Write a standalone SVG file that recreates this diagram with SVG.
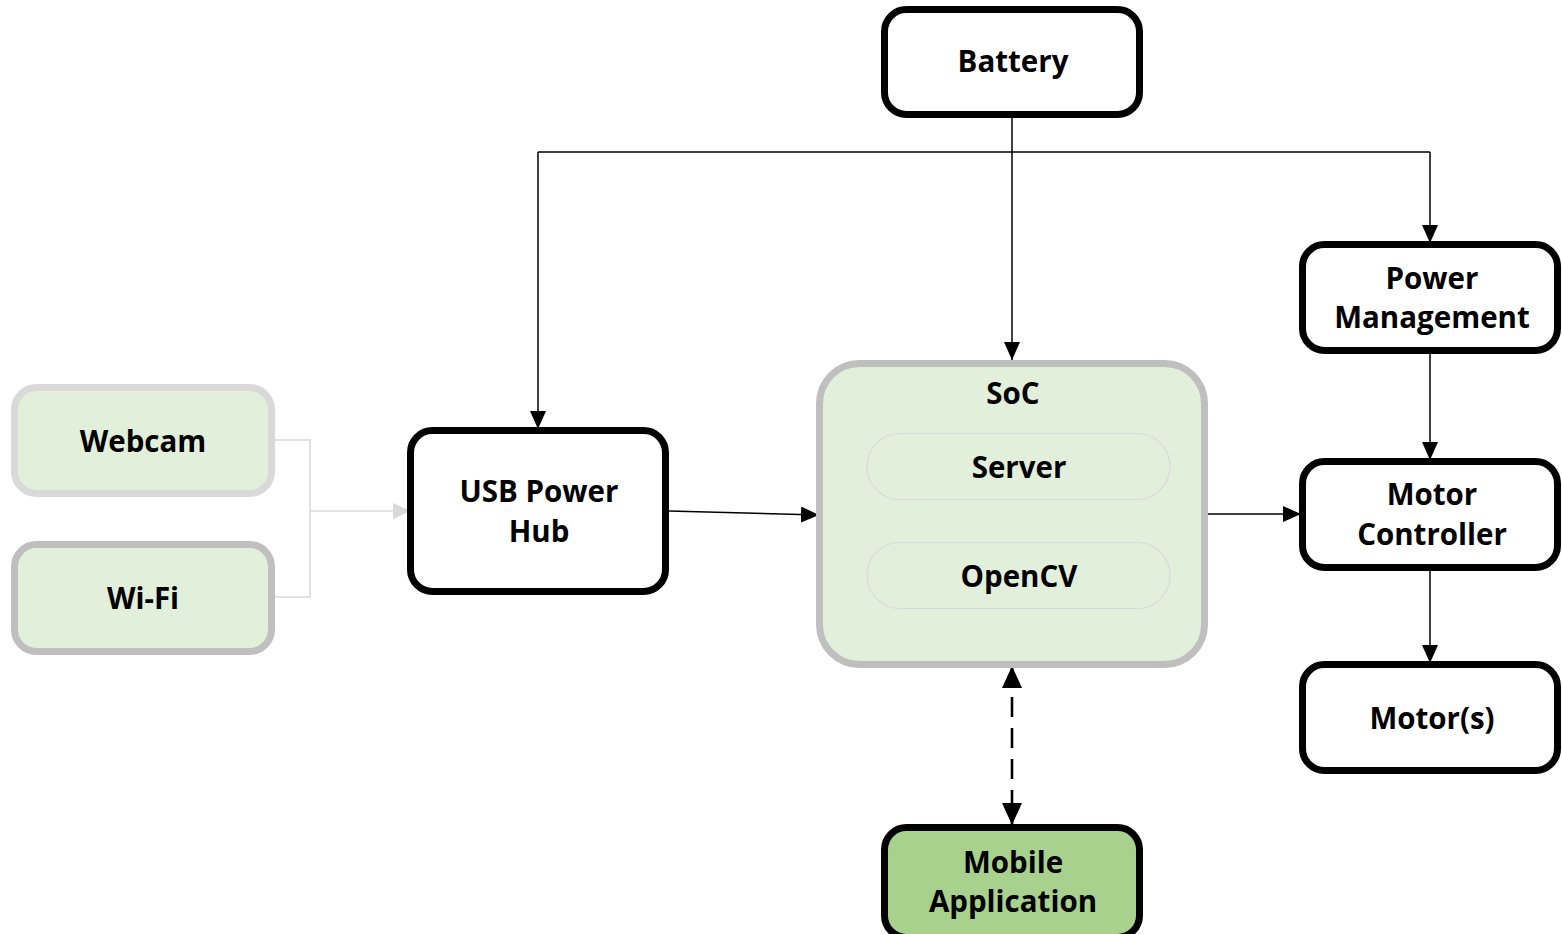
<svg xmlns="http://www.w3.org/2000/svg" width="1562" height="934" viewBox="0 0 1562 934">
  <defs>
    <marker id="arrow" viewBox="0 0 18 16" refX="18" refY="8" markerWidth="18" markerHeight="16" markerUnits="userSpaceOnUse" orient="auto-start-reverse">
      <path d="M0,0 L18,8 L0,16 Z" fill="#000"/>
    </marker>
    <marker id="arrow-big" viewBox="0 0 22 20" refX="22" refY="10" markerWidth="22" markerHeight="20" markerUnits="userSpaceOnUse" orient="auto-start-reverse">
      <path d="M0,0 L22,10 L0,20 Z" fill="#000"/>
    </marker>
    <marker id="arrow-light" viewBox="0 0 18 16" refX="18" refY="8" markerWidth="18" markerHeight="16" markerUnits="userSpaceOnUse" orient="auto">
      <path d="M0,0 L18,8 L0,16 Z" fill="#d9d9d9"/>
    </marker>
  </defs>
  <style>
    .box { fill: #ffffff; stroke: #000000; stroke-width: 7; }
    .green { fill: #e2efda; }
    .app { fill: #a9d18e; stroke: #000000; stroke-width: 7; }
    .soc { fill: #e2efda; stroke: #bfbfbf; stroke-width: 7; }
    .inner { fill: #e2efda; stroke: #d9d9d9; stroke-width: 1.2; }
    .label { font-family: "Open Sans", "Liberation Sans", sans-serif; font-weight: bold; font-size: 29.5px; fill: #000; text-anchor: middle; }
    .wire { fill: none; stroke: #000; stroke-width: 1.5; }
    .dashed { fill: none; stroke: #000; stroke-width: 2.6; stroke-dasharray: 20,11; }
    .wire-light { fill: none; stroke: #d9d9d9; stroke-width: 1.5; }
  </style>
  <rect width="1562" height="934" fill="#ffffff"/>

  <g id="connectors">
    <!-- battery feed -->
    <path class="wire" d="M1012,118 V360" marker-end="url(#arrow)"/>
    <path class="wire" d="M538,152 H1430"/>
    <path class="wire" d="M538,152 V429" marker-end="url(#arrow)"/>
    <path class="wire" d="M1430,152 V243" marker-end="url(#arrow)"/>
    <!-- hub to SoC -->
    <path class="wire" d="M669,511 L819,515" marker-end="url(#arrow)"/>
    <!-- SoC to motor controller -->
    <path class="wire" d="M1205,514 H1301" marker-end="url(#arrow)"/>
    <!-- power chain -->
    <path class="wire" d="M1430,354 V460" marker-end="url(#arrow)"/>
    <path class="wire" d="M1430,571 V663" marker-end="url(#arrow)"/>
    <!-- app link -->
    <path class="dashed" d="M1012,666 V825" marker-start="url(#arrow-big)" marker-end="url(#arrow-big)"/>
    <!-- camera / wifi merge -->
    <path class="wire-light" d="M275,440 H310 V597 H275"/>
    <path class="wire-light" d="M310,511 H411" marker-end="url(#arrow-light)"/>
  </g>

  <g id="battery">
    <rect class="box" x="884.5" y="9.5" width="255" height="105" rx="22"/>
    <text class="label" x="1013" y="72">Battery</text>
  </g>

  <g id="webcam">
    <rect class="green" x="14.5" y="387.5" width="257" height="106" rx="22" stroke="#d9d9d9" stroke-width="7"/>
    <text class="label" x="143" y="452">Webcam</text>
  </g>

  <g id="wifi">
    <rect class="green" x="14.5" y="544.5" width="257" height="107" rx="22" stroke="#bfbfbf" stroke-width="7"/>
    <text class="label" x="143" y="609">Wi-Fi</text>
  </g>

  <g id="usb-hub">
    <rect class="box" x="410.5" y="430.5" width="255" height="161" rx="22"/>
    <text class="label" x="539" y="502">USB Power</text>
    <text class="label" x="539" y="542">Hub</text>
  </g>

  <g id="soc">
    <rect class="soc" x="819.5" y="363.5" width="385" height="301" rx="40"/>
    <text class="label" x="1013" y="404">SoC</text>
    <g id="server">
      <rect class="inner" x="867" y="433.5" width="303" height="66" rx="33"/>
      <text class="label" x="1019" y="478">Server</text>
    </g>
    <g id="opencv">
      <rect class="inner" x="867" y="542.5" width="303" height="66" rx="33"/>
      <text class="label" x="1019" y="587">OpenCV</text>
    </g>
  </g>

  <g id="power-management">
    <rect class="box" x="1302.5" y="244.5" width="255" height="106" rx="22"/>
    <text class="label" x="1432" y="289">Power</text>
    <text class="label" x="1432" y="328">Management</text>
  </g>

  <g id="motor-controller">
    <rect class="box" x="1302.5" y="461.5" width="255" height="106" rx="22"/>
    <text class="label" x="1432" y="505">Motor</text>
    <text class="label" x="1432" y="545">Controller</text>
  </g>

  <g id="motors">
    <rect class="box" x="1302.5" y="664.5" width="255" height="106" rx="22"/>
    <text class="label" x="1432" y="729">Motor(s)</text>
  </g>

  <g id="mobile-app">
    <rect class="app" x="884.5" y="827.5" width="255" height="110" rx="22"/>
    <text class="label" x="1013" y="873">Mobile</text>
    <text class="label" x="1013" y="912">Application</text>
  </g>
</svg>
